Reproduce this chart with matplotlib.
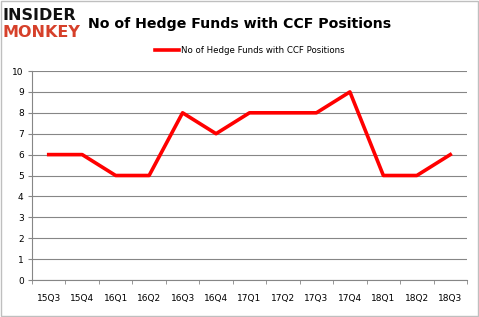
import matplotlib.pyplot as plt
from matplotlib.patches import Rectangle

quarters = ["15Q3", "15Q4", "16Q1", "16Q2", "16Q3", "16Q4", "17Q1",
            "17Q2", "17Q3", "17Q4", "18Q1", "18Q2", "18Q3"]
funds = [6, 6, 5, 5, 8, 7, 8, 8, 8, 9, 5, 5, 6]
yticks = list(range(0, 11))

fig = plt.figure(figsize=(4.79, 3.17), dpi=100)
ax = fig.add_axes([0.0668, 0.1167, 0.9082, 0.6593])

x = list(range(len(quarters)))
ax.plot(x, funds, color="#ff0000", lw=2.6, label="No of Hedge Funds with CCF Positions")

ax.set_xlim(-0.5, len(quarters) - 0.5)
ax.set_ylim(0, 10)
ax.set_yticks(yticks)
ax.set_xticks(x)
ax.set_xticklabels(quarters, fontsize=6.5)
ax.set_xticks([i - 0.5 for i in range(len(quarters) + 1)], minor=True)
ax.tick_params(axis="x", which="major", length=0, pad=10)
ax.tick_params(axis="x", which="minor", length=3, color="#868686")
ax.tick_params(axis="y", length=3, color="#868686", labelsize=6.5, pad=3)
ax.grid(axis="y", color="#868686", lw=0.8)
ax.set_axisbelow(True)
for s in ["top", "right"]:
    ax.spines[s].set_visible(False)
for s in ["left", "bottom"]:
    ax.spines[s].set_color("#868686")

ax.legend(loc="lower center", bbox_to_anchor=(0.5, 1.04), frameon=False,
          fontsize=6.2, handlelength=2.8, handletextpad=0.2)

fig.text(0.183, 0.925, "No of Hedge Funds with CCF Positions", fontsize=10.2,
         fontweight="bold", va="center", ha="left")
fig.text(0.006, 0.95, "INSIDER", fontsize=11.5, fontweight="heavy", color="#111111",
         va="center", ha="left")
fig.text(0.006, 0.896, "MONKEY", fontsize=11.5, fontweight="heavy", color="#d6402a",
         va="center", ha="left")

fig.patches.append(Rectangle((0.002, 0.003), 0.995, 0.993, transform=fig.transFigure,
                             fill=False, edgecolor="#bfbfbf", lw=1))

fig.savefig("out.png", dpi=100)
